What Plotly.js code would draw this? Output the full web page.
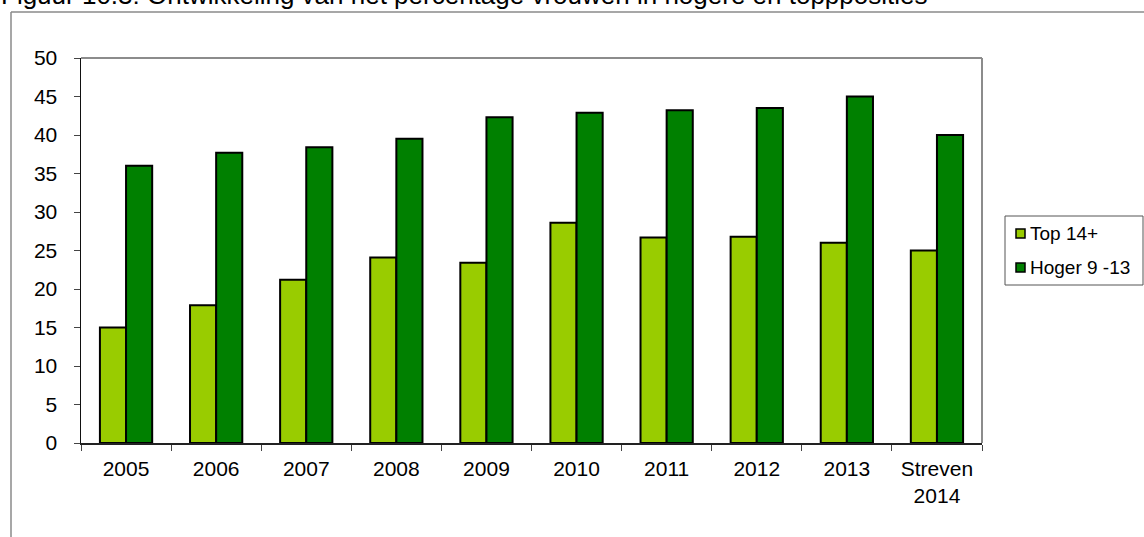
<!DOCTYPE html>
<html>
<head>
<meta charset="utf-8">
<script src="https://cdn.plot.ly/plotly-3.0.1.min.js"></script>
<style>
html,body{margin:0;padding:0;background:#fff;}
#chart{width:1144px;height:537px;}
</style>
</head>
<body>
<div id="chart"></div>
<script>
// ---- data ----
const categories = ['2005','2006','2007','2008','2009','2010','2011','2012','2013','Streven<br>2014'];
const seriesNames = ['Top 14+','Hoger 9 -13'];
const top14 = [15.0, 17.9, 21.2, 24.1, 23.4, 28.6, 26.7, 26.8, 26.0, 25.0];
const hoger = [36.0, 37.7, 38.4, 39.5, 42.3, 42.9, 43.2, 43.5, 45.0, 40.0];
const seriesColors = ['#99CC00','#008000'];
const yTicks = [0,5,10,15,20,25,30,35,40,45,50];
const titleText = 'Figuur 10.3: Ontwikkeling van het percentage vrouwen in hogere en toppposities';

// ---- layout geometry (pixels) ----
const W = 1144, H = 537;
const M = {l: 81, r: 162, t: 58, b: 94};
const PW = W - M.l - M.r, PH = H - M.t - M.b;
const px = x => (x - M.l) / PW;
const py = y => 1 - (y - M.t) / PH;

const FONT = 'Liberation Sans, Arial, Helvetica, sans-serif';

const traces = [top14, hoger].map((vals, i) => ({
  type: 'bar',
  name: seriesNames[i],
  x: categories,
  y: vals,
  marker: {color: seriesColors[i], line: {color: '#000000', width: 2}},
  showlegend: false,
  hoverinfo: 'x+y'
}));

const shapes = [];
const annotations = [];

// outer frame (left + top)
shapes.push({type:'line', xref:'paper', yref:'paper', x0:px(11), x1:px(11), y0:py(12), y1:py(H+2), line:{color:'#8a8a8a', width:1.5}});
shapes.push({type:'line', xref:'paper', yref:'paper', x0:px(11), x1:px(W+2), y0:py(12), y1:py(12), line:{color:'#8a8a8a', width:1.5}});
// plot area top + right border
shapes.push({type:'line', xref:'paper', yref:'paper', x0:0, x1:1, y0:1, y1:1, line:{color:'#8c8c8c', width:2}});
shapes.push({type:'line', xref:'paper', yref:'paper', x0:1, x1:1, y0:0, y1:1, line:{color:'#8c8c8c', width:2}});

// legend box
shapes.push({type:'rect', xref:'paper', yref:'paper', x0:px(1005), x1:px(1143), y0:py(216), y1:py(285), line:{color:'#555555', width:1}, fillcolor:'rgba(0,0,0,0)'});
const legendY = [233.5, 267.5];
seriesNames.forEach((n, i) => {
  const cy = legendY[i];
  shapes.push({type:'rect', xref:'paper', yref:'paper', x0:px(1016), x1:px(1025), y0:py(cy-4.5), y1:py(cy+4.5), line:{color:'#000', width:1.5}, fillcolor:seriesColors[i]});
  annotations.push({xref:'paper', yref:'paper', x:px(1028), y:py(cy), xanchor:'left', yanchor:'middle', text:n, showarrow:false, font:{family:FONT, size:19, color:'#000'}});
});

// title
annotations.push({xref:'paper', yref:'paper', x:px(-1), y:py(12.5), xanchor:'left', yanchor:'bottom', text:titleText, showarrow:false, font:{family:FONT, size:26, color:'#000'}});

const layout = {
  width: W, height: H,
  margin: M,
  paper_bgcolor: '#ffffff',
  plot_bgcolor: '#ffffff',
  barmode: 'group',
  bargap: 0.42,
  bargroupgap: 0,
  font: {family: FONT, size: 21, color: '#000'},
  xaxis: {
    type: 'category',
    showgrid: false,
    zeroline: false,
    showline: true, linecolor: '#222', linewidth: 1.5,
    ticks: 'outside', tickson: 'boundaries', ticklen: 6, tickcolor: '#444', tickwidth: 1,
    tickfont: {family: FONT, size: 21, color: '#000'},
    ticklabelstandoff: 6,
    fixedrange: true
  },
  yaxis: {
    range: [0, 50],
    tickvals: yTicks,
    ticktext: yTicks.map(String),
    showgrid: false,
    zeroline: false,
    showline: true, linecolor: '#111', linewidth: 1.5,
    ticks: 'outside', ticklen: 6, tickcolor: '#444', tickwidth: 1,
    tickfont: {family: FONT, size: 21, color: '#000'},
    ticklabelstandoff: 12,
    fixedrange: true
  },
  shapes: shapes,
  annotations: annotations,
  showlegend: false
};

Plotly.newPlot('chart', traces, layout, {displayModeBar: false, staticPlot: true});
</script>
</body>
</html>
